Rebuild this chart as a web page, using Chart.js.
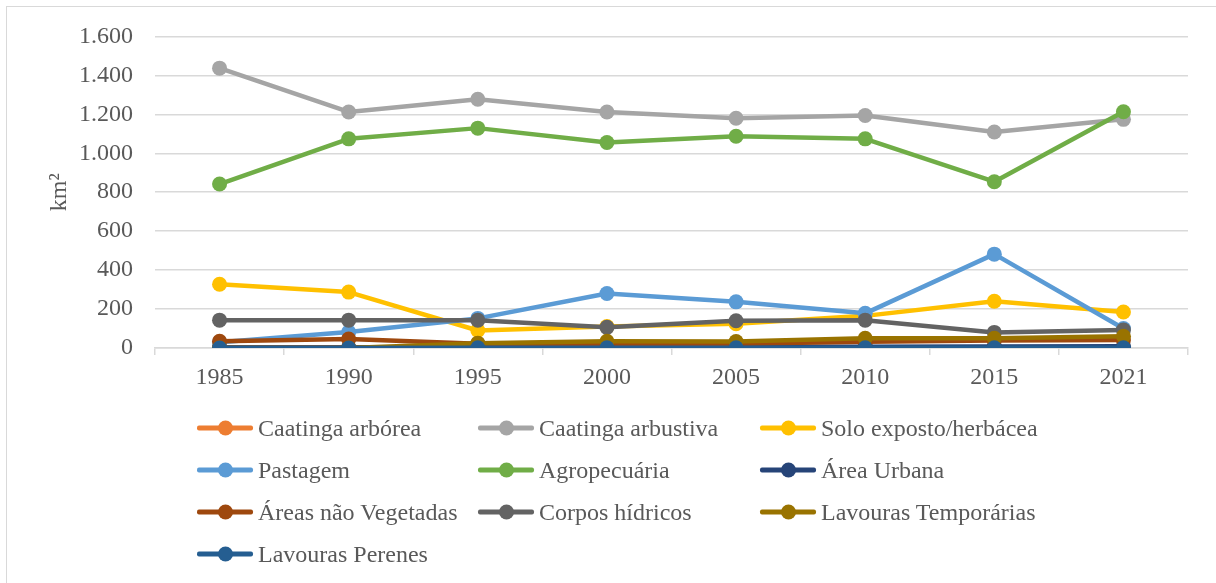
<!DOCTYPE html>
<html lang="pt-BR">
<head>
<meta charset="utf-8">
<title>Uso e cobertura do solo</title>
<script src="https://cdn.jsdelivr.net/npm/chart.js@4/dist/chart.umd.min.js"></script>
<style>
    html, body { margin: 0; padding: 0; background: #fff; overflow: hidden; }
    .wrap { position: relative; width: 1216px; height: 583px; }
    .frame {
        position: absolute; left: 6px; top: 6px; width: 1300px; height: 700px;
        border: 1.5px solid #d9d9d9; box-sizing: border-box;
    }
    canvas { position: absolute; left: 0; top: 0; }
    .item {
        position: absolute; display: flex; align-items: center; gap: 5px;
        transform: translateY(-50%);
        font: 24px 'Liberation Serif', 'Times New Roman', serif; color: #595959;
        white-space: nowrap;
    }
    .sw { position: relative; width: 56px; height: 15px; }
    .sw::before {
        content: ''; position: absolute; left: 0; right: 0; top: 50%;
        height: 5px; margin-top: -2.5px; background: var(--c); border-radius: 2px;
    }
    .sw i {
        position: absolute; left: 50%; top: 50%; width: 15px; height: 15px;
        margin: -7.5px 0 0 -7.5px; border-radius: 50%; background: var(--c);
    }
</style>
</head>
<body>
<div class="wrap">
    <div class="frame"></div>
    <canvas id="myChart" width="1216" height="583"></canvas>
    <div id="legend"></div>
</div>
<script>
// #region data
const years = ['1985', '1990', '1995', '2000', '2005', '2010', '2015', '2021'];

const caatingaArborea = [4, 4, 3, 3, 3, 3, 3, 3];
const caatingaArbustiva = [1437, 1212, 1277, 1212, 1180, 1194, 1109, 1174];
const soloExposto = [327, 287, 90, 110, 125, 165, 240, 185];
const pastagem = [30, 82, 152, 280, 237, 178, 482, 100];
const agropecuaria = [842, 1074, 1129, 1055, 1087, 1074, 854, 1213];
const areaUrbana = [2, 3, 4, 5, 6, 7, 8, 9];
const areasNaoVegetadas = [35, 46, 22, 22, 22, 32, 38, 41];
const corposHidricos = [143, 143, 143, 106, 140, 143, 80, 93];
const lavourasTemporarias = [0, 0, 25, 35, 33, 50, 50, 60];
const lavourasPerenes = [0, 0, 1, 1, 1, 1, 1, 1];

const yTicks = [0, 200, 400, 600, 800, 1000, 1200, 1400, 1600];
// #endregion data

const series = [
    ['Caatinga arbórea', caatingaArborea, '#ed7d31'],
    ['Caatinga arbustiva', caatingaArbustiva, '#a5a5a5'],
    ['Solo exposto/herbácea', soloExposto, '#ffc000'],
    ['Pastagem', pastagem, '#5b9bd5'],
    ['Agropecuária', agropecuaria, '#70ad47'],
    ['Área Urbana', areaUrbana, '#264478'],
    ['Áreas não Vegetadas', areasNaoVegetadas, '#9e480e'],
    ['Corpos hídricos', corposHidricos, '#636363'],
    ['Lavouras Temporárias', lavourasTemporarias, '#997300'],
    ['Lavouras Perenes', lavourasPerenes, '#255e91']
];

const
    graph = document.querySelector('#myChart'),
    legend = document.querySelector('#legend');

const serif = "'Liberation Serif', 'Times New Roman', serif";
const grey = '#595959';
const gridGrey = '#d9d9d9';

function thousands(v) {
    return String(v).replace(/\B(?=(\d{3})+(?!\d))/g, '.');
}

function buildDatasets() {
    // later series sit on top, so lower order wins
    return series.map(([label, data, color], i) => ({
        label: label,
        data: data,
        borderColor: color,
        backgroundColor: color,
        pointBackgroundColor: color,
        pointBorderWidth: 0,
        pointRadius: 7.5,
        pointHoverRadius: 7.5,
        borderWidth: 4.5,
        borderJoinStyle: 'round',
        borderCapStyle: 'round',
        tension: 0,
        order: series.length - 1 - i
    }));
}

function graphrender() {
    return new Chart(graph.getContext('2d'), {
        type: 'line',
        data: {
            labels: years,
            datasets: buildDatasets()
        },
        options: {
            responsive: false,
            animation: false,
            devicePixelRatio: 1,
            layout: { padding: { left: 0, right: 28, top: 35, bottom: 0 } },
            plugins: {
                legend: { display: false },
                tooltip: { enabled: false }
            },
            scales: {
                x: {
                    offset: true,
                    grid: {
                        offset: true,
                        drawOnChartArea: false,
                        color: gridGrey,
                        lineWidth: 1.5,
                        tickLength: 7
                    },
                    border: { display: true, color: gridGrey, width: 1.5 },
                    ticks: {
                        color: grey,
                        padding: 8,
                        maxRotation: 0,
                        font: { family: serif, size: 24 }
                    },
                    afterFit: (scale) => { scale.height = 235; }
                },
                y: {
                    min: yTicks[0],
                    max: yTicks[yTicks.length - 1],
                    afterBuildTicks: (scale) => {
                        scale.ticks = yTicks.map(v => ({ value: v }));
                    },
                    grid: {
                        color: gridGrey,
                        lineWidth: 1.5,
                        drawTicks: false
                    },
                    border: { display: false },
                    ticks: {
                        color: grey,
                        padding: 22,
                        font: { family: serif, size: 24 },
                        callback: (v) => thousands(v)
                    },
                    title: {
                        display: true,
                        text: 'km²',
                        color: grey,
                        padding: { top: 45, bottom: 0 },
                        font: { family: serif, size: 24 }
                    },
                    afterFit: (scale) => { scale.width = 155; }
                }
            }
        }
    });
}

function legendrender(chart) {
    const cols = [197, 478, 760];
    const rows = [428, 470, 512, 554];
    chart.data.datasets.forEach((ds, i) => {
        const item = document.createElement('div');
        item.className = 'item';
        item.style.left = cols[i % 3] + 'px';
        item.style.top = rows[Math.floor(i / 3)] + 'px';
        item.style.setProperty('--c', ds.borderColor);
        item.innerHTML = `<span class="sw"><i></i></span><span>${ds.label}</span>`;
        legend.appendChild(item);
    });
}

function pageLoad() {
    const chart = graphrender();
    legendrender(chart);
}

pageLoad();
</script>
</body>
</html>
